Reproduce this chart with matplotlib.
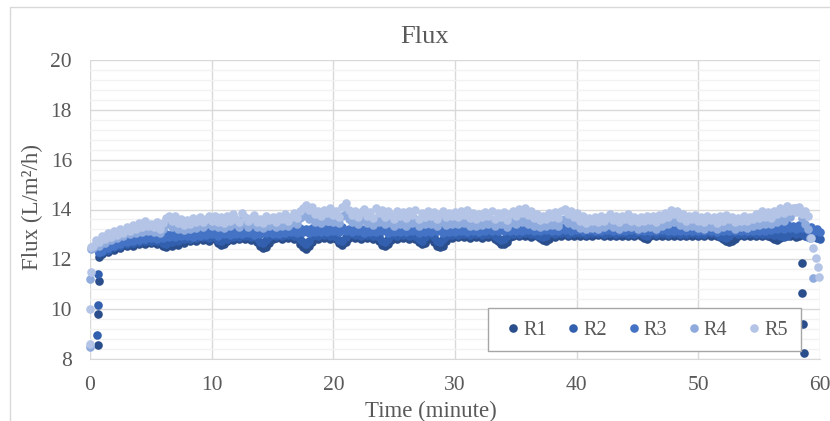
import numpy as np
import matplotlib.pyplot as plt
from matplotlib.patches import Rectangle
from matplotlib.ticker import MultipleLocator

plt.rcParams['font.family'] = 'Liberation Serif'

names = ['R1', 'R2', 'R3', 'R4', 'R5']
colors = ['#2A4D8C', '#3260AE', '#4472C4', '#8FAADC', '#B4C4E6']

STEP = 0.25  # minutes between logged readings

# start-up readings (minute, flux)
r1_start_t = [0.62, 0.66, 0.70, 0.75]
r1_start = [8.56, 9.80, 11.13, 12.10]
r2_start_t = [0.60, 0.64, 0.68, 0.74]
r2_start = [8.96, 10.17, 11.40, 12.25]
r3_start_t = [0.78]
r3_start = [12.30]
r4_start_t = [0.00, 0.04, 0.08]
r4_start = [8.50, 11.20, 12.40]
r5_start_t = [0.00, 0.03, 0.06, 0.10]
r5_start = [8.60, 10.00, 11.50, 12.50]

# steady readings, every STEP minutes from the first time given
r1_from = 1.0
r1 = [12.2, 12.32, 12.3, 12.42, 12.38, 12.5, 12.45, 12.58, 12.52, 12.62, 12.55, 12.68, 12.6, 12.7, 12.62, 12.72, 12.65,
      12.72, 12.6, 12.68, 12.55, 12.5, 12.58, 12.52, 12.62, 12.58, 12.7, 12.65, 12.8, 12.72, 12.85, 12.75, 12.88, 12.78, 12.85, 12.75, 12.88,
      12.8, 12.65, 12.58, 12.62, 12.72, 12.85, 12.78, 12.9, 12.8, 12.92, 12.82, 12.9, 12.78, 12.85, 12.68, 12.52, 12.45, 12.5, 12.65, 12.82,
      12.85, 12.95, 12.82, 12.92, 12.85, 12.95, 12.82, 12.88, 12.62, 12.48, 12.42, 12.52, 12.7, 12.88, 12.8, 12.92, 12.85, 12.95, 12.82, 12.9,
      12.8, 12.65, 12.58, 12.7, 12.85, 12.95, 12.85, 12.92, 12.82, 12.95, 12.85, 12.92, 12.8, 12.9, 12.75, 12.58, 12.52, 12.6, 12.78, 12.9,
      12.82, 12.95, 12.85, 12.92, 12.8, 12.9, 12.82, 12.7, 12.6, 12.65, 12.8, 12.92, 12.7, 12.55, 12.48, 12.55, 12.72, 12.9, 12.85, 12.95,
      12.88, 12.98, 12.9, 12.95, 12.85, 12.98, 12.88, 12.95, 12.85, 12.98, 12.9, 12.95, 12.82, 12.72, 12.62, 12.6, 12.7, 12.88, 12.95, 13.0,
      12.92, 13.02, 12.95, 13.0, 12.9, 13.0, 12.92, 12.85, 12.78, 12.75, 12.82, 12.95, 12.9, 13.02, 12.95, 13.05, 12.95, 13.02, 12.92, 13.02,
      12.95, 13.05, 12.95, 13.02, 12.92, 13.05, 12.98, 13.02, 12.95, 13.05, 12.95, 13.02, 12.92, 13.05, 12.95, 13.02, 12.95, 13.05, 12.92, 13.0,
      12.92, 12.85, 12.82, 12.92, 13.0, 12.95, 13.05, 12.95, 13.02, 12.92, 13.05, 12.95, 13.02, 12.92, 13.0, 12.95, 13.05, 12.95, 13.02, 12.92,
      13.02, 12.95, 13.05, 12.95, 13.0, 12.92, 12.88, 12.8, 12.72, 12.68, 12.72, 12.82, 12.92, 13.0, 12.92, 13.02, 12.95, 13.05, 12.95, 13.0,
      12.92, 13.02, 12.95, 12.88, 12.82, 12.78, 12.85, 12.95, 13.02, 12.92, 12.98, 12.9, 12.95]

r2_from = 1.0
r2 = [12.28, 12.42, 12.38, 12.52, 12.48, 12.6, 12.55, 12.68, 12.6, 12.72, 12.65, 12.78, 12.7, 12.8, 12.72, 12.82, 12.75,
      12.85, 12.72, 12.82, 12.65, 12.6, 12.72, 12.68, 12.8, 12.75, 12.88, 12.8, 12.92, 12.82, 12.95, 12.85, 12.98, 12.88, 12.95, 12.85, 12.98,
      12.9, 12.78, 12.72, 12.85, 12.8, 12.95, 12.88, 13.0, 12.9, 13.02, 12.92, 13.05, 12.9, 13.0, 12.85, 12.7, 12.65, 12.78, 12.9, 13.02,
      12.92, 13.05, 12.95, 13.08, 12.98, 13.05, 12.92, 13.0, 12.8, 12.68, 12.62, 12.75, 12.92, 13.05, 12.95, 13.08, 12.98, 13.1, 12.95, 13.05,
      12.9, 12.78, 12.75, 12.9, 13.0, 13.1, 12.98, 13.08, 12.95, 13.1, 12.98, 13.05, 12.92, 13.08, 12.88, 12.75, 12.7, 12.82, 12.98, 13.08,
      12.95, 13.1, 12.98, 13.05, 12.92, 13.08, 12.95, 12.82, 12.75, 12.9, 13.02, 13.1, 12.88, 12.75, 12.68, 12.8, 12.95, 13.08, 12.98, 13.1,
      12.98, 13.12, 13.0, 13.1, 12.98, 13.12, 13.02, 13.1, 12.98, 13.12, 13.0, 13.08, 12.92, 12.85, 12.78, 12.82, 12.95, 13.08, 13.0, 13.12,
      13.02, 13.15, 13.05, 13.12, 13.0, 13.1, 12.98, 12.92, 12.88, 12.95, 13.05, 13.15, 13.02, 13.12, 13.05, 13.15, 13.02, 13.12, 13.05, 13.15,
      13.05, 13.15, 13.02, 13.12, 13.05, 13.18, 13.05, 13.12, 13.02, 13.15, 13.05, 13.12, 13.02, 13.15, 13.05, 13.12, 13.0, 13.1, 13.02, 13.15,
      13.05, 12.98, 12.95, 13.05, 13.12, 13.02, 13.15, 13.05, 13.12, 13.02, 13.15, 13.05, 13.12, 13.0, 13.1, 13.02, 13.15, 13.05, 13.12, 13.02,
      13.12, 13.02, 13.15, 13.05, 13.1, 13.0, 12.95, 12.88, 12.85, 12.92, 13.05, 13.12, 13.02, 13.1, 13.0, 13.12, 13.05, 13.15, 13.02, 13.1,
      13.02, 13.12, 13.0, 13.1, 12.98, 13.08, 12.95, 12.9, 12.92, 13.05, 13.12, 13.02, 13.1, 13.0, 12.95, 12.9, 12.95, 12.88, 12.85, 12.8]

r3_from = 1.0
r3 = [12.35, 12.5, 12.45, 12.6, 12.55, 12.68, 12.6, 12.75, 12.68, 12.8, 12.72, 12.85, 12.78, 12.9, 12.8, 12.92, 12.85,
      12.95, 12.82, 12.98, 12.85, 13.0, 12.88, 13.02, 12.9, 13.05, 12.92, 13.08, 12.95, 13.05, 12.9, 13.1, 12.95, 13.08, 12.98, 13.12, 13.0,
      13.1, 12.95, 13.12, 13.0, 13.15, 12.98, 13.18, 13.02, 13.12, 13.0, 13.2, 13.05, 13.15, 12.98, 13.18, 13.02, 13.15, 13.05, 13.2, 13.0,
      13.15, 13.02, 13.18, 13.05, 13.2, 13.08, 13.22, 13.05, 13.25, 13.1, 13.2, 13.05, 13.25, 13.1, 13.22, 13.08, 13.28, 13.1, 13.22, 13.12,
      13.25, 13.1, 13.3, 13.15, 13.22, 13.08, 13.25, 13.12, 13.2, 13.05, 13.28, 13.1, 13.22, 13.08, 13.25, 13.12, 13.2, 13.05, 13.22, 13.1,
      13.25, 13.08, 13.22, 13.1, 13.28, 13.12, 13.2, 13.05, 13.25, 13.1, 13.22, 13.08, 13.26, 13.12, 13.2, 13.05, 13.22, 13.1, 13.25, 13.08,
      13.28, 13.12, 13.25, 13.1, 13.3, 13.15, 13.22, 13.1, 13.28, 13.12, 13.25, 13.15, 13.32, 13.15, 13.25, 13.12, 13.3, 13.15, 13.22, 13.12,
      13.3, 13.15, 13.32, 13.18, 13.25, 13.12, 13.28, 13.15, 13.3, 13.18, 13.25, 13.12, 13.28, 13.15, 13.3, 13.18, 13.32, 13.15, 13.25, 13.18,
      13.3, 13.15, 13.32, 13.18, 13.28, 13.15, 13.3, 13.12, 13.28, 13.18, 13.25, 13.12, 13.3, 13.15, 13.28, 13.12, 13.32, 13.18, 13.25, 13.12,
      13.28, 13.15, 13.3, 13.12, 13.25, 13.15, 13.3, 13.18, 13.28, 13.12, 13.25, 13.15, 13.3, 13.12, 13.28, 13.15, 13.25, 13.12, 13.28, 13.15,
      13.3, 13.12, 13.28, 13.15, 13.25, 13.1, 13.28, 13.15, 13.3, 13.12, 13.25, 13.15, 13.28, 13.12, 13.3, 13.15, 13.25, 13.12, 13.28, 13.15,
      13.3, 13.15, 13.32, 13.18, 13.35, 13.2, 13.38, 13.22, 13.4, 13.25, 13.35, 13.2, 13.38, 13.25, 13.32, 13.18, 13.28, 13.15, 13.2, 13.1]

r4_from = 0.25
r4 = [12.45, 12.62, 12.55, 12.75, 12.65, 12.88, 12.78, 12.95, 12.85, 13.05, 12.92, 13.12, 13.0, 13.18, 13.05, 13.22, 13.1, 13.28, 13.12, 13.22,
      13.08, 13.25, 13.05, 13.22, 13.4, 13.48, 13.3, 13.45, 13.22, 13.38, 13.18, 13.35, 13.2, 13.4, 13.25, 13.45, 13.3, 13.42, 13.5, 13.35,
      13.48, 13.3, 13.45, 13.25, 13.5, 13.32, 13.55, 13.4, 13.28, 13.58, 13.45, 13.3, 13.42, 13.52, 13.3, 13.45, 13.25, 13.48, 13.35, 13.45,
      13.3, 13.5, 13.35, 13.55, 13.32, 13.45, 13.58, 13.42, 13.65, 13.72, 13.8, 13.62, 13.7, 13.5, 13.62, 13.45, 13.68, 13.52, 13.7, 13.48,
      13.6, 13.45, 13.72, 13.8, 13.62, 13.48, 13.6, 13.42, 13.58, 13.65, 13.45, 13.55, 13.38, 13.62, 13.5, 13.6, 13.4, 13.58, 13.45, 13.35,
      13.55, 13.4, 13.52, 13.35, 13.58, 13.45, 13.6, 13.32, 13.5, 13.4, 13.55, 13.42, 13.52, 13.35, 13.48, 13.58, 13.38, 13.5, 13.42, 13.55,
      13.4, 13.55, 13.45, 13.6, 13.35, 13.5, 13.32, 13.48, 13.38, 13.55, 13.42, 13.58, 13.35, 13.5, 13.4, 13.52, 13.3, 13.45, 13.58, 13.42,
      13.6, 13.48, 13.62, 13.42, 13.55, 13.35, 13.48, 13.3, 13.45, 13.32, 13.5, 13.38, 13.55, 13.35, 13.58, 13.62, 13.45, 13.55, 13.38, 13.48,
      13.25, 13.4, 13.2, 13.35, 13.25, 13.42, 13.22, 13.45, 13.28, 13.38, 13.48, 13.3, 13.42, 13.22, 13.45, 13.3, 13.5, 13.28, 13.4, 13.22,
      13.38, 13.25, 13.45, 13.3, 13.42, 13.22, 13.48, 13.32, 13.52, 13.4, 13.6, 13.5, 13.58, 13.38, 13.48, 13.28, 13.42, 13.32, 13.45, 13.25,
      13.4, 13.22, 13.45, 13.3, 13.38, 13.2, 13.42, 13.28, 13.45, 13.32, 13.4, 13.22, 13.38, 13.28, 13.45, 13.25, 13.4, 13.32, 13.5, 13.38,
      13.55, 13.4, 13.58, 13.42, 13.6, 13.5, 13.72, 13.55, 13.8, 13.68, 13.9, 14.05, 13.95, 13.65, 13.4, 13.2]

r5_from = 0.25
r5 = [12.55, 12.78, 12.68, 12.92, 12.8, 13.05, 12.9, 13.15, 12.98, 13.22, 13.05, 13.3, 13.12, 13.38, 13.2, 13.45, 13.28, 13.52, 13.35, 13.42,
      13.3, 13.5, 13.22, 13.45, 13.65, 13.75, 13.55, 13.72, 13.45, 13.62, 13.38, 13.58, 13.42, 13.65, 13.5, 13.7, 13.48, 13.62, 13.75, 13.55,
      13.72, 13.5, 13.68, 13.45, 13.75, 13.55, 13.8, 13.62, 13.48, 13.85, 13.7, 13.52, 13.65, 13.78, 13.5, 13.62, 13.45, 13.72, 13.58, 13.7,
      13.5, 13.75, 13.6, 13.82, 13.55, 13.7, 13.85, 13.65, 13.95, 14.05, 14.18, 13.98, 14.1, 13.8, 13.95, 13.72, 14.0, 13.85, 14.05, 13.78,
      13.92, 13.7, 14.12, 14.25, 14.0, 13.78, 13.95, 13.7, 13.9, 14.02, 13.75, 13.88, 13.65, 14.05, 13.85, 13.98, 13.7, 13.92, 13.78, 13.6,
      13.95, 13.72, 13.88, 13.65, 13.92, 13.78, 13.98, 13.6, 13.85, 13.7, 13.92, 13.75, 13.88, 13.62, 13.8, 13.95, 13.68, 13.85, 13.72, 13.9,
      13.7, 13.92, 13.78, 13.98, 13.65, 13.85, 13.6, 13.82, 13.68, 13.9, 13.75, 13.95, 13.62, 13.85, 13.7, 13.88, 13.58, 13.8, 13.95, 13.72,
      14.02, 13.85, 14.05, 13.78, 13.92, 13.65, 13.82, 13.58, 13.75, 13.62, 13.85, 13.7, 13.9, 13.65, 13.95, 14.02, 13.8, 13.95, 13.68, 13.85,
      13.55, 13.72, 13.45, 13.65, 13.52, 13.7, 13.48, 13.75, 13.55, 13.68, 13.8, 13.58, 13.72, 13.5, 13.75, 13.6, 13.82, 13.55, 13.7, 13.48,
      13.68, 13.52, 13.75, 13.58, 13.72, 13.5, 13.78, 13.6, 13.85, 13.7, 13.98, 13.82, 13.95, 13.65, 13.8, 13.55, 13.72, 13.6, 13.78, 13.52,
      13.7, 13.5, 13.75, 13.58, 13.68, 13.45, 13.72, 13.55, 13.78, 13.6, 13.7, 13.48, 13.65, 13.55, 13.75, 13.52, 13.68, 13.6, 13.8, 13.65,
      13.92, 13.7, 13.88, 13.65, 13.95, 13.8, 14.08, 13.85, 14.15, 13.92, 14.05, 13.88, 14.1, 13.82, 13.95, 13.75]

# shut-down readings (minute, flux)
r1_end_t = [58.50, 58.55, 58.60, 58.65]
r1_end = [11.87, 10.65, 9.40, 8.24]
r4_end_t = [59.20, 59.40]
r4_end = [12.85, 11.24]
r5_end_t = [59.25, 59.45, 59.65, 59.80, 59.95]
r5_end = [12.85, 12.45, 12.04, 11.70, 11.30]

runs = [
    (r1_start_t, r1_start, r1_from, r1, r1_end_t, r1_end),
    (r2_start_t, r2_start, r2_from, r2, [], []),
    (r3_start_t, r3_start, r3_from, r3, [], []),
    (r4_start_t, r4_start, r4_from, r4, r4_end_t, r4_end),
    (r5_start_t, r5_start, r5_from, r5, r5_end_t, r5_end),
]

W, H = 830, 421
fig = plt.figure(figsize=(W / 100, H / 100), dpi=100)
ax = fig.add_axes([90 / W, 1 - 359 / H, 730 / W, 299 / H])

for name, c, (ts, vs, t0, band, te, ve) in zip(names, colors, runs):
    t = np.concatenate([ts, t0 + STEP * np.arange(len(band)), te])
    v = np.concatenate([vs, band, ve])
    ax.plot(t, v, 'o', ms=6.2, mew=0, color=c, label=name, clip_on=False, zorder=3)

ax.set_xlim(0, 60)
ax.set_ylim(8, 20)
ax.set_xticks(range(0, 61, 10))
ax.set_yticks(range(8, 21, 2))
ax.yaxis.set_minor_locator(MultipleLocator(0.4))
ax.set_axisbelow(True)
ax.grid(which='major', color='#D9D9D9', lw=1)
ax.grid(which='minor', axis='y', color='#F2F2F2', lw=1)
for s in ['top', 'right', 'left']:
    ax.spines[s].set_visible(False)
ax.spines['bottom'].set_color('#D9D9D9')
ax.tick_params(which='both', length=0, labelsize=15.5, labelcolor='#595959')
ax.tick_params(axis='x', pad=12)
ax.tick_params(axis='y', pad=13)

fig.text(425 / W, 1 - 37 / H, 'Flux', ha='center', va='center', fontsize=19, color='#595959')
fig.text(431 / W, 1 - 411 / H, 'Time (minute)', ha='center', va='center', fontsize=16.5, color='#595959')
fig.text(32 / W, 1 - 207 / H, 'Flux (L/m²/h)', ha='center', va='center', rotation=90,
         fontsize=16.5, color='#595959')

# legend box and outer chart border
fig.patches.append(Rectangle((488 / W, 1 - 351 / H), 313 / W, 43 / H, transform=fig.transFigure,
                             facecolor='white', edgecolor='#A6A6A6', lw=1, zorder=4))
fig.patches.append(Rectangle((10 / W, 1 - 440 / H), 840 / W, 433 / H, transform=fig.transFigure,
                             fill=False, edgecolor='#D9D9D9', lw=1))

leg = fig.legend(loc='center left', bbox_to_anchor=(507 / W, 1 - 330 / H), ncol=5, frameon=False,
                 fontsize=14.5, handlelength=0.6, handletextpad=0.2, columnspacing=1.02,
                 borderpad=0, borderaxespad=0)
for txt in leg.get_texts():
    txt.set_color('#595959')
leg.set_zorder(5)

fig.savefig('out.png', dpi=100)
